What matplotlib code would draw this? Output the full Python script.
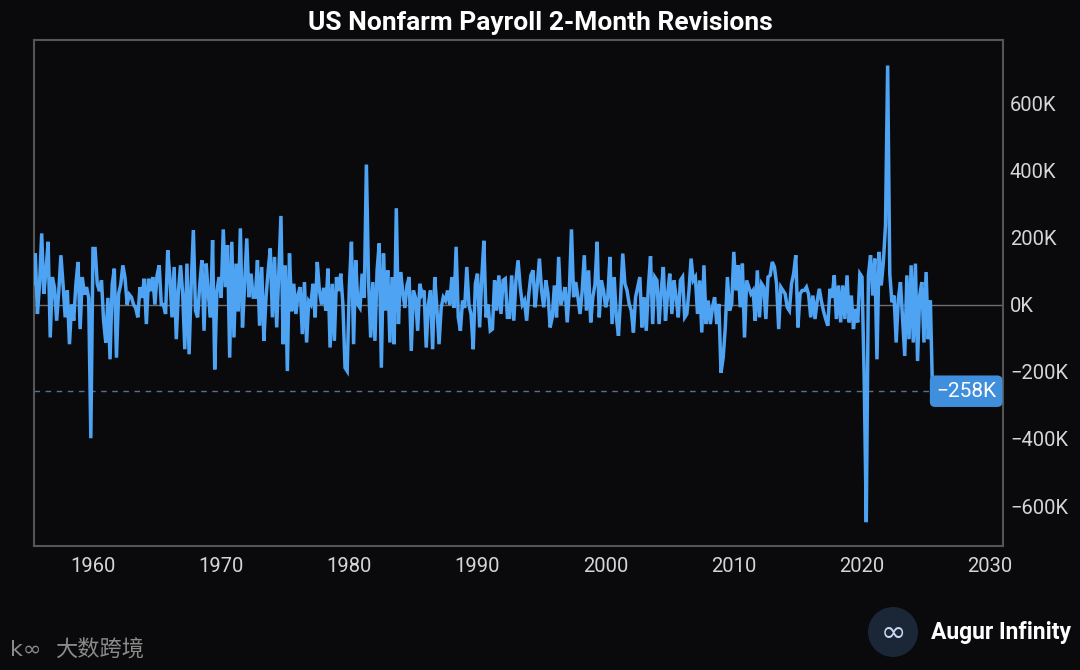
import matplotlib
matplotlib.use("Agg")
import matplotlib.pyplot as plt
from matplotlib.patches import Ellipse
import numpy as np
import pandas as pd

# ---- data (thousands of jobs, 2-month sampling) ----
start_date = "1955-05-01"
seg1 = [62, 152, -28, 60, 212, 32, 100, 187, -98, 82, 50, -48, 40, 147, 60, -38, 42, -118, 0, -48,
        60, 127, -73, 82, 30, 52, 20, -398, 167, 167, 62, 40, 72, -50, -113, 20, -163, 60, 107, -158,
        32, 60, 117, 80, 0, 30, 22, 0, -10, -38, 52, 20, 77, -58, 77, 40, 82, 0, 87, 117, 0]
seg2 = [0, -28, 162, 82, -38, 112, -103, 40, 117, 32, -133, 122, -148, 60, 222, -18, -38, 60, 132, -78,
        122, 30, -38, 192, -193, 40, 82, 20, 224, 52, 177, -158, 187, -98, 122, -20, 227, -68, 60, 197,
        22, 92, 22, 22, 132, -63, 112, -108, 20, 100, 167, -38, 142, -68, 100, 264, -118, 117, -198, 152, -20]
seg3 = [62, -28, 30, 52, -88, 67, -113, 10, 0, 62, -38, 127, 42, 0, 50, -18, 107, -128, 62, -108,
        82, 40, 92, 0, -188, -198, 52, 187, -118, 132, 0, -10, 92, 20, 417, 70, -98, 67, -108, 102,
        182, -188, 152, -18, 102, -113, 82, -118, 287, -58, 97, 40, -10, 57, 82, -138, 42, 20, -78, 62, 30]
seg4 = [42, -128, 0, 42, -133, 82, -10, -118, -10, 22, 12, 42, 0, 82, -10, 172, -38, -78, 12, -10,
        112, 0, -30, -133, 62, 92, -68, 80, 190, -38, 0, -78, -73, 72, -18, 87, -28, 72, 77, -38,
        -38, 87, -48, 72, 132, 52, 0, 12, -48, 30, 87, 102, -8, 60, 137, 42, -8, 72, 32, -68, -38]
seg5 = [57, -38, 142, 0, 22, 52, -53, 42, 224, 22, 67, 22, -28, 40, 147, -18, 102, -53, 22, 60,
        187, -38, 72, 42, -8, 22, 142, -58, 82, -38, -93, 22, 152, 62, 42, 2, -18, -83, 22, 52,
        82, -68, 22, -78, 52, 144, -58, 82, 72, -58, 40, 112, -48, 32, 92, -28, 72, 20, -38, 72, 82]
seg6 = [-38, -28, 42, 137, 72, 82, -28, 72, -83, 117, -58, 12, -58, -8, 22, -58, 2, -203, -158, -68,
        82, -18, 2, 157, 42, 117, -8, 122, -98, 72, 52, 32, 42, -48, 102, -38, 62, 52, -43, 82,
        87, 127, 112, 62, -73, 52, 42, 32, -8, -18, 62, 92, 147, -68, 32, 42, 42, 52, 30, -38, 27]
seg7 = [-43, 10, 47, 10, -20, -43, -63, 47, 20, 87, -43, 57, -53, 57, -43, 87, -53, 27, -73, -13,
        -53, 92, 82, -213, -648, 87, 147, 27, 137, -163, 157, 57, 127, 237, 712, 92, 7, 27, -113, 17,
        67, -43, -153, 87, -103, 117, -113, 122, -168, 27, 67, -113, 97, -103, 12, -258]
revisions = seg1 + seg2 + seg3 + seg4 + seg5 + seg6 + seg7
latest_value = revisions[-1]

x_ticks = [1960, 1970, 1980, 1990, 2000, 2010, 2020, 2030]
y_ticks = [-600, -400, -200, 0, 200, 400, 600]

dates = pd.date_range(start_date, periods=len(revisions), freq="2MS")
xyear = dates.year + (dates.month - 1) / 12.0

BG = "#0a0a0c"
LINE = "#4ea3f2"
FG = "#d6d6d6"

plt.rcParams["font.family"] = ["Roboto", "DejaVu Sans"]
fig = plt.figure(figsize=(10.8, 6.7), dpi=100, facecolor=BG)
ax = fig.add_axes([34 / 1080, 1 - 546 / 670, (1003 - 34) / 1080, (546 - 40) / 670])
ax.set_facecolor(BG)

ax.axhline(0, color="#6e6e6e", lw=1.0, zorder=1)
ax.plot(xyear, revisions, color=LINE, lw=2.5, zorder=3, solid_joinstyle="miter")

last_x = xyear[-1]
ax.plot([1955.4, last_x], [latest_value, latest_value], color="#58708c", lw=1.0,
        dashes=(4, 4), zorder=2)

ax.set_xlim(1955.4, 2031.0)
ax.set_ylim(-719, 788)
ax.set_xticks(x_ticks)
ax.set_xticklabels([str(t) for t in x_ticks])
ax.set_yticks(y_ticks)
ax.set_yticklabels([("\u2212" if v < 0 else "") + f"{abs(v)}K" for v in y_ticks])
ax.yaxis.tick_right()
ax.tick_params(axis="both", length=0, colors=FG, labelsize=14.5)
ax.tick_params(axis="x", pad=8)
ax.tick_params(axis="y", pad=5)
for s in ax.spines.values():
    s.set_color("#555555")
    s.set_linewidth(1.5)

# latest value badge
ax.text(0.993, latest_value, "\u2212" + f"{abs(latest_value)}K", transform=ax.get_yaxis_transform(),
        ha="right", va="center", color="white", fontsize=15, zorder=5,
        bbox=dict(boxstyle="round,pad=0.3,rounding_size=0.25", fc="#3f8fdc", ec="none"))

fig.text(0.5, 1 - 23 / 670, "US Nonfarm Payroll 2-Month Revisions", ha="center", va="center",
         color="white", fontsize=19, fontweight="bold")

# branding
circ = Ellipse((893 / 1080, 1 - 632 / 670), 50 / 1080, 50 / 670, transform=fig.transFigure,
               facecolor="#1b2636", edgecolor="none")
fig.patches.append(circ)
fig.text(893 / 1080, 1 - 633 / 670, "\u221e", ha="center", va="center", color="#c6d8f0",
         fontsize=22, fontfamily="DejaVu Sans")
fig.text(931 / 1080, 1 - 633 / 670, "Augur Infinity", ha="left", va="center", color="white",
         fontsize=16.5, fontweight="bold")

fig.text(10 / 1080, 1 - 650 / 670, "k\u221e", ha="left", va="center", color="#8a8a8a",
         fontsize=16, fontfamily="DejaVu Sans")
fig.text(55 / 1080, 1 - 650 / 670, "大数跨境", ha="left", va="center", color="#8a8a8a",
         fontsize=16, fontfamily=["Noto Sans CJK SC", "DejaVu Sans"])

fig.savefig("out.png", dpi=100, facecolor=BG)
